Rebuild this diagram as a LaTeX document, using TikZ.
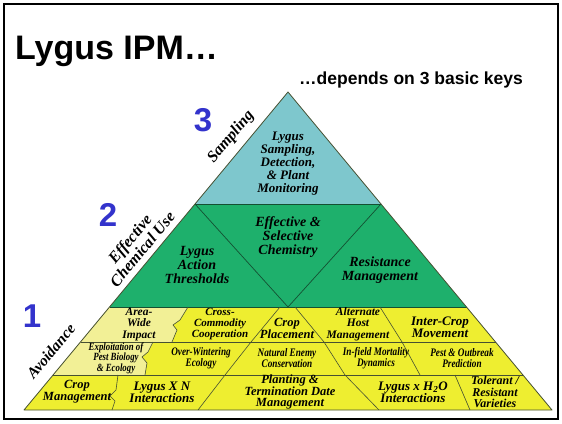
\documentclass[tikz,border=0pt]{standalone}
\usepackage{fontspec}
\usepackage{graphicx}
\setmainfont{Liberation Serif}
\newfontfamily\arialf{Liberation Sans}
\definecolor{tealc}{RGB}{126,199,205}
\definecolor{greenc}{RGB}{30,176,108}
\definecolor{yellowc}{RGB}{238,238,48}
\definecolor{lyellow}{RGB}{242,240,150}
\definecolor{bluenum}{RGB}{51,51,204}
\definecolor{edgec}{RGB}{70,80,50}
\definecolor{gline}{RGB}{20,80,50}
\newcommand{\fs}[2]{\fontsize{#1}{#2}\selectfont}
\newcommand{\cond}[1]{\scalebox{0.8}[1]{#1}}
\tikzset{
  cell/.style={align=center, inner sep=0pt, text=black, font=\bfseries\itshape\fs{12.5}{12}},
  condcell/.style={align=center, inner sep=0pt, text=black, font=\bfseries\itshape\fs{11.5}{11}},
  bigcell/.style={align=center, inner sep=0pt, text=black, font=\bfseries\itshape\fs{14}{14}},
  sidelabel/.style={align=center, inner sep=0pt, rotate=50.3, font=\bfseries\itshape\fs{16}{16}},
  keynum/.style={inner sep=0pt, text=bluenum, font=\arialf\bfseries\fs{33}{33}},
  divline/.style={draw=edgec, line width=0.6pt},
  gdiv/.style={draw=gline, line width=0.7pt}
}
\begin{document}
\begin{tikzpicture}[x=1pt,y=-1pt]
\useasboundingbox (0,0) rectangle (562,423);
\fill[white] (0,0) rectangle (562,423);
% key points
\coordinate (A) at (288,92);
\coordinate (T1) at (195,204);
\coordinate (T2) at (381,204);
\coordinate (G1) at (109.6,307);
\coordinate (G2) at (466.5,307);
\coordinate (Gm) at (288,307);
\coordinate (Y1L) at (80.5,342);
\coordinate (Y1R) at (495.5,342);
\coordinate (Y2L) at (53.1,375);
\coordinate (Y2R) at (522.9,375);
\coordinate (BL) at (24,410);
\coordinate (BR) at (552,410);
% fills
\fill[tealc] (A) -- (T2) -- (T1) -- cycle;
\fill[greenc] (T1) -- (T2) -- (G2) -- (G1) -- cycle;
\fill[yellowc] (G1) -- (G2) -- (BR) -- (BL) -- cycle;
\fill[lyellow] (G1) -- (188,307) -- (180,320) -- (173,325) -- (177,330) -- (172,342) -- (Y1L) -- cycle;
\fill[lyellow] (Y1L) -- (153,342) -- (148,352) -- (142,357) -- (147,363) -- (145,375) -- (Y2L) -- cycle;
% green band lines
\draw[gdiv] (T1) -- (T2);
\draw[gdiv] (T1) -- (Gm) -- (T2);
\draw[gdiv] (G1) -- (G2);
% yellow band horizontal lines
\draw[divline] (Y1L) -- (Y1R);
\draw[divline] (Y2L) -- (Y2R);
% row 1 dividers
\draw[divline] (188,307) -- (180,320) -- (173,325) -- (177,330) -- (172,342);
\draw[divline] (280,307) -- (251,342);
\draw[divline] (295,307) -- (324,342);
\draw[divline] (380,307) -- (402,342);
% row 2 dividers
\draw[divline] (153,342) -- (148,352) -- (142,357) -- (147,363) -- (145,375);
\draw[divline] (251,342) -- (225,375);
\draw[divline] (324,342) -- (345,375);
\draw[divline] (402,342) -- (420,375);
% row 3 dividers
\draw[divline] (118,375) -- (116,390) -- (110,396) -- (115,401) -- (112,410);
\draw[divline] (225,375) -- (198,410);
\draw[divline] (345,375) -- (379,410);
\draw[divline] (455,375) -- (470,410);
% outline
\draw[edgec, line width=0.8pt, line join=round] (A) -- (BR) -- (BL) -- cycle;
% frame
\draw[black, line width=2pt] (4,4) rectangle (558,419);
% titles
\node[anchor=base west, inner sep=0pt, font=\arialf\bfseries\fs{34}{34}] (title) at (15,59) {Lygus IPM…};
\node[anchor=base west, inner sep=0pt, font=\arialf\bfseries\fs{17.5}{17.5}] (subtitle) at (299,84) {…depends on 3 basic keys};
% key numbers
\node[keynum] (n3) at (203,120) {3};
\node[keynum] (n2) at (108,215) {2};
\node[keynum] (n1) at (32,316) {1};
% side labels
\node[sidelabel] (samp) at (231,137) {Sampling};
\node[sidelabel] (chem) at (136,244) {Effective\\Chemical Use};
\node[sidelabel, font=\bfseries\itshape\fs{15.5}{15.5}] (avoid) at (51,351) {Avoidance};
% teal
\node[bigcell, font=\bfseries\itshape\fs{13}{13}] (samptext) at (288,164) {Lygus\\Sampling,\\Detection,\\\& Plant\\Monitoring};
% green
\node[bigcell] (thresh) at (197,265) {Lygus\\Action\\Thresholds};
\node[bigcell] (chemistry) at (288,237) {Effective \&\\Selective\\Chemistry};
\node[bigcell] (resist) at (380,270) {Resistance\\Management};
% row 1
\node[cell, font=\bfseries\itshape\fs{11.5}{11.5}] (area) at (139,324) {Area-\\Wide\\Impact};
\node[cell, font=\bfseries\itshape\fs{11}{11}] (cross) at (220,324) {Cross-\\Commodity\\Cooperation};
\node[cell] (cropp) at (287,328) {Crop\\Placement};
\node[cell, font=\bfseries\itshape\fs{11.5}{11.5}] (alt) at (358,324) {Alternate\\Host\\Management};
\node[cell, font=\bfseries\itshape\fs{13}{12}] (intercrop) at (440,327) {Inter-Crop\\Movement};
% row 2
\node[condcell, font=\bfseries\itshape\fs{11}{10.5}] (exploit) at (116,358) {\cond{Exploitation of}\\\cond{Pest Biology}\\\cond{\& Ecology}};
\node[condcell] (over) at (201,358) {\cond{Over-Wintering}\\\cond{Ecology}};
\node[condcell] (natural) at (287,358) {\cond{Natural Enemy}\\\cond{Conservation}};
\node[condcell] (infield) at (376,358) {\cond{In-field Mortality}\\\cond{Dynamics}};
\node[condcell] (pest) at (462,358) {\cond{Pest \& Outbreak}\\\cond{Prediction}};
% row 3
\node[cell] (cropm) at (77,392) {Crop\\Management};
\node[cell, font=\bfseries\itshape\fs{13}{12}] (lxn) at (162,392) {Lygus X N\\Interactions};
\node[cell, font=\bfseries\itshape\fs{12.5}{11.5}] (plant) at (290,392) {Planting \&\\Termination Date\\Management};
\node[cell, font=\bfseries\itshape\fs{13}{12}] (lh2o) at (413,392) {Lygus x H\textsubscript{2}O\\Interactions};
\node[cell, font=\bfseries\itshape\fs{12}{11.5}] (toler) at (495,392) {Tolerant /\\Resistant\\Varieties};
\end{tikzpicture}
\end{document}
